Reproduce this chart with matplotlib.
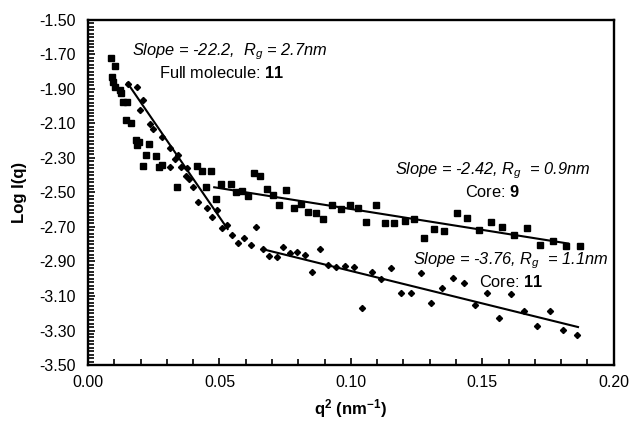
import numpy as np
import matplotlib
matplotlib.use("Agg")
import matplotlib.pyplot as plt
from matplotlib.ticker import MultipleLocator, FixedLocator, FormatStrFormatter

plt.rcParams['font.family'] = ['Liberation Sans', 'DejaVu Sans']
plt.rcParams['mathtext.fontset'] = 'custom'
plt.rcParams['mathtext.rm'] = 'Liberation Sans'
plt.rcParams['mathtext.it'] = 'Liberation Sans:italic'
plt.rcParams['mathtext.bf'] = 'Liberation Sans:bold'

# squares: full molecule at low q, core 9 at high q
sq_q2 = [0.0087, 0.0102, 0.0091, 0.0095, 0.0102, 0.0121, 0.0125, 0.0133, 0.0148, 0.0144,
         0.0163, 0.0182, 0.0193, 0.0186, 0.0231, 0.0220, 0.0258, 0.0208, 0.0269, 0.0280,
         0.0337, 0.0413, 0.0432, 0.0466, 0.0447, 0.0485, 0.0504, 0.0545, 0.0564, 0.0587,
         0.0610, 0.0633, 0.0655, 0.0682, 0.0705, 0.0727, 0.0754, 0.0784, 0.0811, 0.0837,
         0.0867, 0.0894, 0.0928, 0.0962, 0.0996, 0.1027, 0.1057, 0.1095, 0.1129, 0.1163,
         0.1205, 0.1239, 0.1280, 0.1318, 0.1356, 0.1402, 0.1443, 0.1489, 0.1534, 0.1576,
         0.1621, 0.1670, 0.1720, 0.1769, 0.1818, 0.1871]
sq_logI = [-1.720, -1.767, -1.830, -1.859, -1.888, -1.906, -1.923, -1.975, -1.975, -2.080,
           -2.097, -2.196, -2.207, -2.225, -2.219, -2.283, -2.288, -2.346, -2.352, -2.341,
           -2.468, -2.346, -2.375, -2.375, -2.468, -2.538, -2.451, -2.451, -2.497, -2.491,
           -2.520, -2.387, -2.404, -2.480, -2.514, -2.572, -2.486, -2.590, -2.567, -2.613,
           -2.619, -2.654, -2.572, -2.596, -2.572, -2.590, -2.671, -2.572, -2.677, -2.677,
           -2.665, -2.654, -2.764, -2.712, -2.723, -2.619, -2.648, -2.717, -2.671, -2.700,
           -2.746, -2.706, -2.804, -2.781, -2.810, -2.810]

# diamonds: core 11
di_q2 = [0.0152, 0.0186, 0.0208, 0.0197, 0.0235, 0.0246, 0.0280, 0.0311, 0.0341, 0.0330,
         0.0311, 0.0352, 0.0375, 0.0371, 0.0383, 0.0398, 0.0420, 0.0451, 0.0492, 0.0473,
         0.0530, 0.0511, 0.0549, 0.0595, 0.0572, 0.0621, 0.0640, 0.0667, 0.0689, 0.0720,
         0.0742, 0.0769, 0.0795, 0.0826, 0.0852, 0.0883, 0.0913, 0.0943, 0.0977, 0.1011,
         0.1042, 0.1080, 0.1114, 0.1152, 0.1189, 0.1227, 0.1265, 0.1303, 0.1345, 0.1390,
         0.1432, 0.1473, 0.1519, 0.1564, 0.1610, 0.1659, 0.1708, 0.1758, 0.1807, 0.1860]
di_logI = [-1.871, -1.888, -1.964, -2.022, -2.103, -2.132, -2.178, -2.242, -2.283, -2.306,
           -2.352, -2.352, -2.358, -2.404, -2.422, -2.468, -2.555, -2.590, -2.601, -2.642,
           -2.688, -2.706, -2.746, -2.764, -2.793, -2.804, -2.700, -2.828, -2.868, -2.874,
           -2.816, -2.851, -2.845, -2.862, -2.961, -2.828, -2.920, -2.932, -2.926, -2.932,
           -3.170, -2.961, -3.001, -2.938, -3.083, -3.083, -2.967, -3.141, -3.054, -2.996,
           -3.025, -3.152, -3.083, -3.228, -3.088, -3.187, -3.274, -3.187, -3.297, -3.326]

# Guinier fits: slope, intercept, q2 range
fit_slope = [-22.2, -2.42, -3.76]
fit_icpt = [-1.533, -2.354, -2.579]
fit_lo = [0.0150, 0.0480, 0.0664]
fit_hi = [0.0531, 0.1826, 0.1864]

y_ticks = [-3.5, -3.3, -3.1, -2.9, -2.7, -2.5, -2.3, -2.1, -1.9, -1.7, -1.5]

fig = plt.figure(figsize=(6.38, 4.22), dpi=100)
ax = fig.add_axes([0.138, 0.135, 0.824, 0.818])

ax.plot(sq_q2, sq_logI, 's', color='black', markersize=4.0, zorder=3)
ax.plot(di_q2, di_logI, 'D', color='black', markersize=3.1, zorder=3)
for s, b, lo, hi in zip(fit_slope, fit_icpt, fit_lo, fit_hi):
    xx = np.array([lo, hi])
    ax.plot(xx, s * xx + b, color='black', lw=1.5, zorder=2)

ax.set_xlim(0, 0.2)
ax.set_ylim(-3.5, -1.5)
ax.xaxis.set_major_locator(MultipleLocator(0.05))
ax.xaxis.set_minor_locator(MultipleLocator(0.01))
ax.yaxis.set_major_locator(FixedLocator(y_ticks))
ax.yaxis.set_minor_locator(MultipleLocator(0.02))
ax.xaxis.set_major_formatter(FormatStrFormatter('%.2f'))
ax.yaxis.set_major_formatter(FormatStrFormatter('%.2f'))
ax.tick_params(which='both', direction='in', labelsize=11.5, width=1.2)
ax.tick_params(which='major', length=5)
ax.tick_params(which='minor', length=4)
ax.tick_params(axis='x', which='major', pad=7)
ax.tick_params(axis='y', which='major', pad=9)
for sp in ax.spines.values():
    sp.set_linewidth(1.7)

ax.set_xlabel(r'$\mathbf{q^2\ (nm^{-1})}$', fontsize=12, labelpad=5)
ax.set_ylabel('Log I(q)', fontsize=12, fontweight='bold', labelpad=9)

fs = 11.8
ax.text(0.054, -1.684, r'Slope = -22.2,  $R_g$ = 2.7nm', style='italic', fontsize=fs,
        ha='center', va='center')
ax.text(0.051, -1.809, r'Full molecule: $\mathbf{11}$', fontsize=fs, ha='center', va='center')
ax.text(0.154, -2.372, r'Slope = -2.42, $R_g$  = 0.9nm', style='italic', fontsize=fs,
        ha='center', va='center')
ax.text(0.154, -2.495, r'Core: $\mathbf{9}$', fontsize=fs, ha='center', va='center')
ax.text(0.161, -2.895, r'Slope = -3.76, $R_g$  = 1.1nm', style='italic', fontsize=fs,
        ha='center', va='center')
ax.text(0.161, -3.017, r'Core: $\mathbf{11}$', fontsize=fs, ha='center', va='center')

fig.savefig('out.png', dpi=100)
